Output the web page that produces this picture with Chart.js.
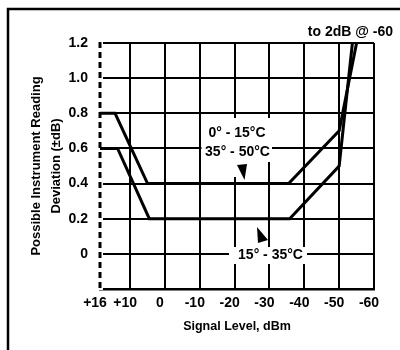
<!DOCTYPE html>
<html lang="en">
<head>
    <meta charset="UTF-8">
    <title>Instrument Reading Deviation</title>
    <script src="https://cdn.jsdelivr.net/npm/chart.js"></script>
    <style>
        body { margin: 0; background: #fff; }
    </style>
</head>
<body>
    <canvas id="myChart" width="400" height="350"></canvas>

    <script>
        // curve values (signal level dBm -> deviation dB)
        var levelsUpper = [16, 13, 5, -35.5, -50, -55];
        var devUpper = [0.8, 0.8, 0.4, 0.4, 0.7, 1.2];
        var levelsLower = [16, 12.5, 4.5, -35.8, -50, -53.8];
        var devLower = [0.6, 0.6, 0.2, 0.2, 0.5, 1.2];
        var xTicks = [16, 10, 0, -10, -20, -30, -40, -50, -60];
        var yTicks = [0, 0.2, 0.4, 0.6, 0.8, 1.0, 1.2];

        var FONT = '"Liberation Sans", Arial, sans-serif';

        // the printed axis is stretched between +16 and +10, linear after that
        class BrokenScale extends Chart.LinearScale {
            _frac(v) {
                var brk = 10, f = 0.11;
                if (v >= brk) return (this.max - v) / (this.max - brk) * f;
                return f + (brk - v) / (brk - this.min) * (1 - f);
            }
            getPixelForValue(v) {
                return this.left + this._frac(v) * this.width;
            }
            getValueForPixel(px) {
                var brk = 10, f = 0.11;
                var p = (px - this.left) / this.width;
                if (p <= f) return this.max - p / f * (this.max - brk);
                return brk - (p - f) / (1 - f) * (brk - this.min);
            }
        }
        BrokenScale.id = 'broken';
        BrokenScale.defaults = Chart.LinearScale.defaults;
        Chart.register(BrokenScale);

        function toPoints(xs, ys) {
            return xs.map(function (x, i) { return { x: x, y: ys[i] }; });
        }

        // frame, dashed left edge, labels with white-out, arrow heads
        var notes = {
            id: 'notes',
            beforeDatasetsDraw: function (chart) {
                var c = chart.ctx;
                var a = chart.chartArea;
                c.save();
                c.fillStyle = '#fff';
                c.fillRect(a.left - 3, a.top - 2, 6, a.bottom - a.top + 3);
                c.fillRect(201.5, 118, 70.5, 44);
                c.fillRect(226, 162, 24, 15);
                c.fillRect(229, 247, 78, 17);
                c.strokeStyle = '#000';
                c.lineWidth = 3;
                c.setLineDash([6, 4]);
                c.beginPath();
                c.moveTo(a.left, a.top - 1);
                c.lineTo(a.left, a.bottom);
                c.stroke();
                c.restore();
            },
            afterDraw: function (chart) {
                var c = chart.ctx;
                c.save();
                c.strokeStyle = '#000';
                c.lineWidth = 2.5;
                c.beginPath();
                c.moveTo(8, 350);
                c.lineTo(8, 9);
                c.lineTo(400, 9);
                c.stroke();

                c.fillStyle = '#000';
                c.font = 'bold 14px ' + FONT;
                c.textBaseline = 'middle';
                c.textAlign = 'center';
                c.fillText('0° - 15°C', 237, 133);
                c.fillText('35° - 50°C', 237.5, 152);
                c.fillText('15° - 35°C', 270.5, 255);
                c.textAlign = 'right';
                c.fillText('to 2dB @ -60', 393, 32);

                c.beginPath();
                c.moveTo(237, 165);
                c.lineTo(247, 164);
                c.lineTo(244.5, 180);
                c.closePath();
                c.fill();
                c.beginPath();
                c.moveTo(257, 227);
                c.lineTo(268, 240);
                c.lineTo(258, 243);
                c.closePath();
                c.fill();
                c.restore();
            }
        };

        var ctx = document.getElementById('myChart').getContext('2d');
        var myChart = new Chart(ctx, {
            type: 'line',
            data: {
                datasets: [{
                    label: '0° - 15°C / 35° - 50°C',
                    data: toPoints(levelsUpper, devUpper)
                }, {
                    label: '15° - 35°C',
                    data: toPoints(levelsLower, devLower)
                }]
            },
            options: {
                responsive: false,
                animation: false,
                layout: { padding: { left: 20, top: 43, right: 26, bottom: 0 } },
                elements: {
                    point: { radius: 0 },
                    line: { borderColor: '#000', borderWidth: 3, tension: 0, fill: false }
                },
                plugins: {
                    legend: { display: false },
                    tooltip: { enabled: false }
                },
                scales: {
                    x: {
                        type: 'broken',
                        min: -60,
                        max: 16,
                        afterBuildTicks: function (scale) {
                            scale.ticks = xTicks.map(function (v) { return { value: v }; });
                        },
                        afterFit: function (scale) { scale.height = 61; },
                        grid: {
                            drawTicks: false,
                            lineWidth: 2,
                            color: function (c) {
                                return c.tick && c.tick.value === 16 ? 'rgba(0,0,0,0)' : '#000';
                            }
                        },
                        border: { color: '#000', width: 2.5 },
                        ticks: {
                            color: '#000',
                            padding: 6,
                            labelOffset: -5,
                            maxRotation: 0,
                            font: { family: FONT, size: 14, weight: 'bold' },
                            callback: function (v) { return v > 0 ? '+' + v : String(v); }
                        },
                        title: {
                            display: true,
                            text: 'Signal Level, dBm',
                            color: '#000',
                            padding: { top: 0, bottom: 16 },
                            font: { family: FONT, size: 12.5, weight: 'bold' }
                        }
                    },
                    y: {
                        min: -0.2,
                        max: 1.2,
                        afterBuildTicks: function (scale) {
                            scale.ticks = yTicks.map(function (v) { return { value: v }; });
                        },
                        afterFit: function (scale) { scale.width = 80; },
                        grid: { drawTicks: false, lineWidth: 2, color: '#000' },
                        border: { display: false },
                        ticks: {
                            color: '#000',
                            padding: 12,
                            font: { family: FONT, size: 14, weight: 'bold' },
                            callback: function (v) { return v === 0 ? '0' : v.toFixed(1); }
                        },
                        title: {
                            display: true,
                            text: ['Possible Instrument Reading', 'Deviation (±dB)'],
                            color: '#000',
                            padding: { top: 6.75, bottom: 0 },
                            font: { family: FONT, size: 13, weight: 'bold', lineHeight: 1.5 }
                        }
                    }
                }
            },
            plugins: [notes]
        });
    </script>
</body>
</html>
